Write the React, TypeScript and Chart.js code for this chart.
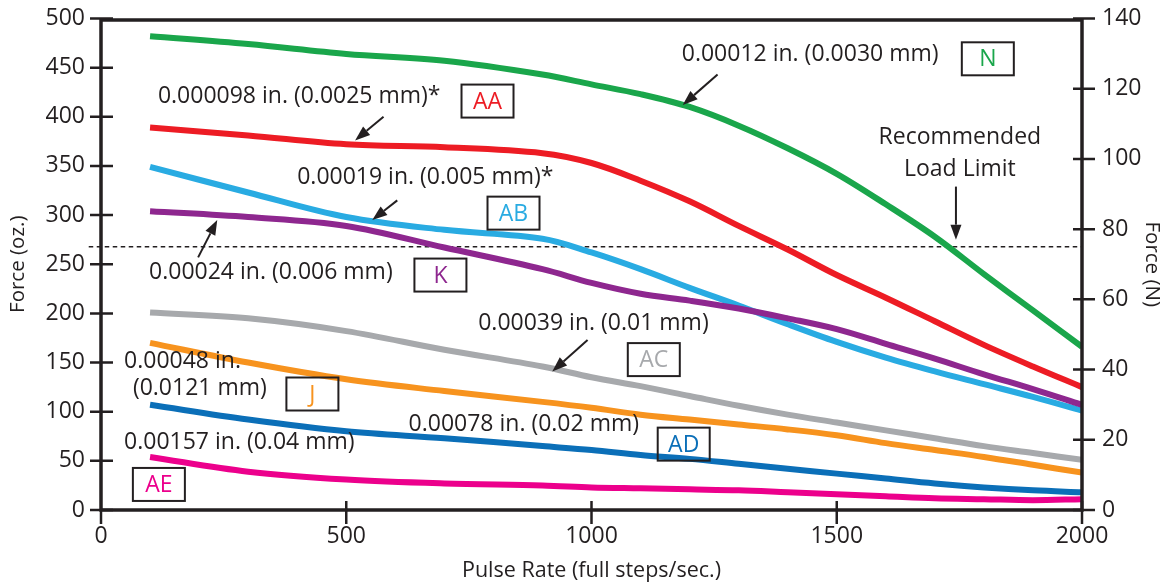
import React, { useEffect, useRef } from "react";
import { Chart, registerables } from "chart.js";

Chart.register(...registerables);

// ---------- data ----------
const pulseRate = [100, 300, 500, 700, 900, 1000, 1100, 1200, 1300, 1400, 1500, 1600, 1700, 1800, 1900, 2000];
const forceN = [482, 474, 464, 457, 443, 433, 423, 410, 391, 368, 342, 311, 278, 240, 203, 166];
const forceAA = [389, 381, 372, 369, 363, 353, 335, 314, 289, 265, 239, 216, 192, 168, 146, 125];
const forceAB = [349, 323, 298, 285, 276, 262, 245, 226, 208, 189, 171, 155, 141, 128, 115, 101];
const forceK = [304, 298, 289, 267, 245, 231, 220, 213, 205, 195, 184, 169, 154, 138, 123, 107];
const forceAC = [201, 195, 182, 163, 146, 135, 126, 116, 106, 97, 89, 81, 73, 65, 58, 51];
const forceJ = [170, 150, 133, 121, 110, 104, 97, 92, 87, 82, 76, 68, 61, 54, 46, 38];
const forceAD = [107, 92, 80, 73, 65, 61, 56, 52, 47, 42, 37, 32, 27, 23, 20, 18];
const forceAE = [54, 39, 31, 27, 25, 23, 22, 21, 20, 18, 16, 14, 12, 11, 10, 11];

const loadLimitN = 75; // recommended load limit (N)

const xTicks = [0, 500, 1000, 1500, 2000];

// annotation texts (anchored in data units: x = pulse rate, y = oz)
const noteTexts = [
  { text: "0.00012 in. (0.0030 mm)", x: 1184, y: 463 },
  { text: "0.000098 in. (0.0025 mm)*", x: 116, y: 421 },
  { text: "0.00019 in. (0.005 mm)*", x: 400, y: 338 },
  { text: "0.00024 in. (0.006 mm)", x: 98, y: 242 },
  { text: "0.00039 in. (0.01 mm)", x: 769, y: 190 },
  { text: "0.00048 in.", x: 47, y: 151 },
  { text: "(0.0121 mm)", x: 65, y: 124 },
  { text: "0.00078 in. (0.02 mm)", x: 627, y: 87 },
  { text: "0.00157 in. (0.04 mm)", x: 47, y: 69 },
];
const centerTexts = [
  { text: "Recommended", x: 1751, y: 379 },
  { text: "Load Limit", x: 1751, y: 346 },
];
const boxLabels = [
  { text: "N", x: 1808, y: 459, color: "#1aa64b" },
  { text: "AA", x: 788, y: 416, color: "#ed1c24" },
  { text: "AB", x: 841, y: 302, color: "#29abe2" },
  { text: "K", x: 692, y: 239, color: "#8e278f" },
  { text: "AC", x: 1127, y: 153, color: "#a7a9ac" },
  { text: "J", x: 431, y: 118, color: "#f7931e" },
  { text: "AD", x: 1188, y: 67, color: "#0b6fb8" },
  { text: "AE", x: 118, y: 26, color: "#ec008c" },
];
const arrows = [
  { x1: 1257, y1: 443, x2: 1186, y2: 412 },
  { x1: 576, y1: 400, x2: 518, y2: 376 },
  { x1: 604, y1: 315, x2: 553, y2: 295 },
  { x1: 198, y1: 257, x2: 237, y2: 295 },
  { x1: 992, y1: 173, x2: 920, y2: 141 },
  { x1: 1743, y1: 329, x2: 1743, y2: 275 },
];

const INK = "#231f20";
const FONT = '"Open Sans", sans-serif';

const pts = (vals: number[]) => pulseRate.map((x, i) => ({ x, y: vals[i] }));

const frameAndNotes = {
  id: "frameAndNotes",
  afterDatasetsDraw(chart: any) {
    const { ctx, scales } = chart;
    const xs = scales.x;
    const ys = scales.y;
    const X = (v: number) => xs.getPixelForValue(v);
    const Y = (v: number) => ys.getPixelForValue(v);
    ctx.save();
    ctx.fillStyle = INK;
    ctx.font = `23px ${FONT}`;
    ctx.textBaseline = "middle";
    ctx.textAlign = "left";
    noteTexts.forEach((n) => ctx.fillText(n.text, X(n.x), Y(n.y)));
    ctx.textAlign = "center";
    centerTexts.forEach((n) => ctx.fillText(n.text, X(n.x), Y(n.y)));
    // boxes
    boxLabels.forEach((b) => {
      const cx = X(b.x);
      const cy = Y(b.y);
      ctx.lineWidth = 2;
      ctx.strokeStyle = INK;
      ctx.strokeRect(cx - 26, cy - 16.5, 52, 33);
      ctx.fillStyle = b.color;
      ctx.fillText(b.text, cx, cy + 1);
    });
    // arrows
    arrows.forEach((a) => {
      const x1 = X(a.x1), y1 = Y(a.y1), x2 = X(a.x2), y2 = Y(a.y2);
      const ang = Math.atan2(y2 - y1, x2 - x1);
      const hl = 15, hw = 5.5;
      const bx = x2 - hl * Math.cos(ang), by = y2 - hl * Math.sin(ang);
      ctx.strokeStyle = INK;
      ctx.lineWidth = 2;
      ctx.beginPath();
      ctx.moveTo(x1, y1);
      ctx.lineTo(bx, by);
      ctx.stroke();
      ctx.fillStyle = INK;
      ctx.beginPath();
      ctx.moveTo(x2, y2);
      ctx.lineTo(bx + hw * Math.sin(ang), by - hw * Math.cos(ang));
      ctx.lineTo(bx - hw * Math.sin(ang), by + hw * Math.cos(ang));
      ctx.closePath();
      ctx.fill();
    });
    ctx.restore();
  },
  afterDraw(chart: any) {
    const { ctx, chartArea: a, scales } = chart;
    ctx.save();
    ctx.strokeStyle = INK;
    ctx.lineWidth = 3.5;
    ctx.beginPath();
    ctx.moveTo(a.left, a.top + 1.5);
    ctx.lineTo(a.right, a.top + 1.5);
    ctx.moveTo(a.left, a.top);
    ctx.lineTo(a.left, a.bottom);
    ctx.lineTo(a.right, a.bottom);
    ctx.lineTo(a.right, a.top);
    ctx.stroke();
    ctx.lineWidth = 2.5;
    ctx.beginPath();
    scales.y.ticks.forEach((t: any) => {
      const py = scales.y.getPixelForValue(t.value);
      ctx.moveTo(a.left - 11, py);
      ctx.lineTo(a.left + 12, py);
    });
    scales.y1.ticks.forEach((t: any) => {
      const py = scales.y1.getPixelForValue(t.value);
      ctx.moveTo(a.right - 9, py);
      ctx.lineTo(a.right + 13, py);
    });
    scales.x.ticks.forEach((t: any) => {
      const px = scales.x.getPixelForValue(t.value);
      ctx.moveTo(px, a.bottom - (t.value === 0 ? 0 : 9));
      ctx.lineTo(px, a.bottom + 14);
    });
    ctx.stroke();
    ctx.restore();
  },
};

export default function App() {
  const ref = useRef<HTMLCanvasElement | null>(null);
  useEffect(() => {
    document.body.style.margin = "0";
    const line = (label: string, vals: number[], color: string) => ({
      label,
      data: pts(vals),
      borderColor: color,
      backgroundColor: color,
      borderWidth: 6,
      pointRadius: 0,
      tension: 0.35,
      borderCapStyle: "butt" as const,
      yAxisID: "y",
    });
    const plain = (v: any) => String(v);
    const fixVertical = (w: number) => (s: any) => {
      s.width = w;
      s.paddingTop = 0;
      s.paddingBottom = 0;
    };
    const chart = new Chart(ref.current as HTMLCanvasElement, {
      type: "line",
      data: {
        datasets: [
          line("N", forceN, "#1aa64b"),
          line("AA", forceAA, "#ed1c24"),
          line("K", forceK, "#8e278f"),
          line("AB", forceAB, "#29abe2"),
          line("AC", forceAC, "#a7a9ac"),
          line("J", forceJ, "#f7931e"),
          line("AD", forceAD, "#0b6fb8"),
          line("AE", forceAE, "#ec008c"),
          {
            label: "Recommended Load Limit",
            data: [
              { x: -25, y: loadLimitN },
              { x: 2000, y: loadLimitN },
            ],
            borderColor: INK,
            borderWidth: 1.5,
            borderDash: [4.5, 3.5],
            pointRadius: 0,
            clip: false,
            yAxisID: "y1",
          } as any,
        ],
      },
      options: {
        animation: false,
        responsive: true,
        maintainAspectRatio: false,
        layout: { padding: { top: 18.5, left: 0, right: 0, bottom: 0 } },
        plugins: { legend: { display: false }, tooltip: { enabled: false } },
        scales: {
          x: {
            type: "linear",
            min: 0,
            max: 2000,
            afterBuildTicks: (s: any) => {
              s.ticks = xTicks.map((v) => ({ value: v }));
            },
            afterFit: (s: any) => {
              s.height = 77;
            },
            grid: { display: false, drawTicks: false },
            border: { display: false },
            ticks: { color: INK, font: { family: FONT, size: 23 }, padding: 13, maxRotation: 0, callback: plain },
            title: {
              display: true,
              text: "Pulse Rate (full steps/sec.)",
              color: INK,
              font: { family: FONT, size: 21.5 },
              padding: { top: 0, bottom: 3 },
            },
          },
          y: {
            type: "linear",
            position: "left",
            min: 0,
            max: 500,
            ticks: { stepSize: 50, color: INK, font: { family: FONT, size: 23 }, padding: 16, callback: plain },
            afterFit: fixVertical(101),
            grid: { display: false, drawTicks: false },
            border: { display: false },
            title: {
              display: true,
              text: "Force (oz.)",
              color: INK,
              font: { family: FONT, size: 20.5 },
              padding: { top: 6, bottom: 0 },
            },
          },
          y1: {
            type: "linear",
            position: "right",
            min: 0,
            max: 140,
            ticks: { stepSize: 20, color: INK, font: { family: FONT, size: 23 }, padding: 20, callback: plain },
            afterFit: fixVertical(88),
            grid: { display: false, drawTicks: false },
            border: { display: false },
            title: {
              display: true,
              text: "Force (N)",
              color: INK,
              font: { family: FONT, size: 20.5 },
              padding: { top: 6, bottom: 0 },
            },
          },
        },
      },
      plugins: [frameAndNotes],
    });
    return () => chart.destroy();
  }, []);
  return (
    <div style={{ position: "fixed", left: 0, top: 0, width: 1170, height: 587, background: "#fff" }}>
      <canvas ref={ref} />
    </div>
  );
}
